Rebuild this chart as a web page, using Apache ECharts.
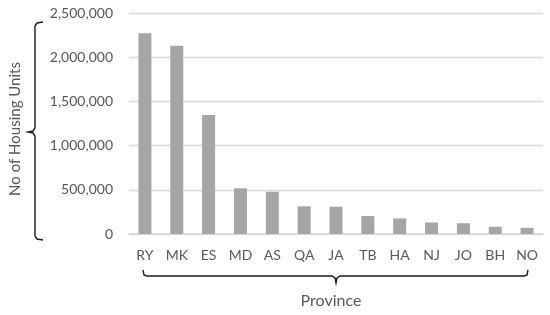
<!DOCTYPE html>
<html><head><meta charset="utf-8">
<script src="https://cdn.jsdelivr.net/npm/echarts@6/dist/echarts.min.js"></script>
<style>html,body{margin:0;padding:0;background:#fff}#c{width:550px;height:315px}</style>
</head><body><div id="c"></div>
<script>
const categories = ['RY','MK','ES','MD','AS','QA','JA','TB','HA','NJ','JO','BH','NO'];
const housingUnits = [2270000,2130000,1346000,517000,479000,313000,309000,203000,176000,130000,122000,82000,70000];
const yTicks = [0,500000,1000000,1500000,2000000,2500000];
const yTitle = 'No of Housing Units';
const xTitle = 'Province';

const FONT = 'Lato, "Open Sans", sans-serif';
const chart = echarts.init(document.getElementById('c'), null, {renderer:'canvas'});
const braceStyle = {stroke:'#1a1a1a', lineWidth:1.4, fill:null};
chart.setOption({
  animation:false,
  grid:{left:129, right:7, top:13, bottom:81, containLabel:false},
  xAxis:{type:'category', data:categories,
    axisLine:{lineStyle:{color:'#d9d9d9', width:1.5}},
    axisTick:{show:false},
    axisLabel:{color:'#595959', fontFamily:FONT, fontSize:14, margin:14}},
  yAxis:{type:'value', min:yTicks[0], max:yTicks[yTicks.length-1], interval:yTicks[1]-yTicks[0],
    axisLine:{show:false}, axisTick:{show:false},
    splitLine:{lineStyle:{color:'#d9d9d9', width:1.3}},
    axisLabel:{color:'#595959', fontFamily:FONT, fontSize:14, margin:16,
      formatter:v=>v.toLocaleString('en-US')}},
  series:[{type:'bar', data:housingUnits, barWidth:13,
    itemStyle:{color:'#a5a5a5'}}],
  graphic:[
    {type:'polyline', shape:{points:[[43,22],[37,23],[35,26],[35,128],[33,131],[28,132],[33,133],[35,136],[35,236],[37,239],[43,240]]}, style:braceStyle},
    {type:'polyline', shape:{points:[[143,270],[144,275],[147,276],[332,276],[335,278],[336,283],[337,278],[340,276],[524,276],[527,275],[528,270]]}, style:braceStyle},
    {type:'text', x:331, y:301, style:{text:xTitle, fill:'#595959', font:'16px '+FONT, textAlign:'center', textVerticalAlign:'middle'}},
    {type:'text', rotation:Math.PI/2, x:15, y:129, style:{text:yTitle, fill:'#595959', font:'15px '+FONT, textAlign:'center', textVerticalAlign:'middle'}}
  ]
});
</script></body></html>
